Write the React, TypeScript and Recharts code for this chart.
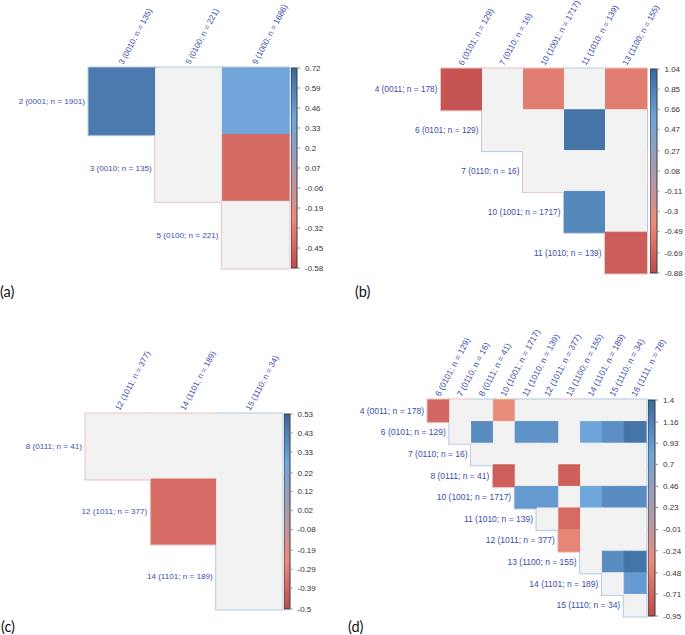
import React from 'react';
import { ScatterChart, Scatter, XAxis, YAxis, BarChart, Bar } from 'recharts';

// ---- panel (a)
const aCols = ['3 (0010; n = 135)', '5 (0100; n = 221)', '9 (1000; n = 1686)'];
const aRows = ['2 (0001; n = 1901)', '3 (0010; n = 135)', '5 (0100; n = 221)'];
// S = significant (coloured), N = not significant (grey), - = no cell
const aMask = ['SNS', '-NS', '--N'];
const aValues = [
  [0.62, 0.05, 0.38],
  [null, -0.05, -0.42],
  [null, null, -0.05],
];
const aTicks = [0.72, 0.59, 0.46, 0.33, 0.2, 0.07, -0.06, -0.19, -0.32, -0.45, -0.58];

// ---- panel (b)
const bCols = ['6 (0101; n = 129)', '7 (0110; n = 16)', '10 (1001; n = 1717)', '11 (1010; n = 139)', '13 (1100; n = 155)'];
const bRows = ['4 (0011; n = 178)', '6 (0101; n = 129)', '7 (0110; n = 16)', '10 (1001; n = 1717)', '11 (1010; n = 139)'];
const bMask = ['SNSNS', '-NNSN', '--NNN', '---SN', '----S'];
const bValues = [
  [-0.81, -0.05, -0.5, 0.05, -0.5],
  [null, 0.05, 0.05, 0.95, 0.05],
  [null, null, -0.05, 0.05, -0.05],
  [null, null, null, 0.8, 0.05],
  [null, null, null, null, -0.74],
];
const bTicks = [1.04, 0.85, 0.66, 0.47, 0.27, 0.08, -0.11, -0.3, -0.49, -0.69, -0.88];

// ---- panel (c)
const cCols = ['12 (1011; n = 377)', '14 (1101; n = 189)', '15 (1110; n = 34)'];
const cRows = ['8 (0111; n = 41)', '12 (1011; n = 377)', '14 (1101; n = 189)'];
const cMask = ['NNN', '-SN', '--N'];
const cValues = [
  [-0.05, -0.05, 0.05],
  [null, -0.37, 0.05],
  [null, null, 0.05],
];
const cTicks = [0.53, 0.43, 0.33, 0.22, 0.12, 0.02, -0.08, -0.19, -0.29, -0.39, -0.5];

// ---- panel (d)
const dCols = ['6 (0101; n = 129)', '7 (0110; n = 16)', '8 (0111; n = 41)', '10 (1001; n = 1717)', '11 (1010; n = 139)',
  '12 (1011; n = 377)', '13 (1100; n = 155)', '14 (1101; n = 189)', '15 (1110; n = 34)', '16 (1111; n = 78)'];
const dRows = ['4 (0011; n = 178)', '6 (0101; n = 129)', '7 (0110; n = 16)', '8 (0111; n = 41)', '10 (1001; n = 1717)',
  '11 (1010; n = 139)', '12 (1011; n = 377)', '13 (1100; n = 155)', '14 (1101; n = 189)', '15 (1110; n = 34)'];
const dMask = [
  'SNNSNNNNNN',
  '-NSNSSNSSS',
  '--NNNNNNNN',
  '---SNNSNNN',
  '----SSNSSS',
  '-----NSNNN',
  '------SNNN',
  '-------NSS',
  '--------NS',
  '---------N',
];
const dValues = [
  [-0.68, -0.05, 0.05, -0.36, 0.05, 0.05, -0.05, 0.05, 0.05, 0.05],
  [null, 0.05, 1.05, 0.05, 1.0, 1.0, 0.05, 0.82, 1.02, 1.28],
  [null, null, 0.05, 0.05, 0.05, 0.05, 0.05, 0.05, 0.05, 0.05],
  [null, null, null, -0.77, 0.05, 0.05, -0.77, 0.05, 0.05, 0.05],
  [null, null, null, null, 0.93, 0.93, 0.05, 0.8, 1.05, 1.05],
  [null, null, null, null, null, 0.05, -0.66, 0.05, 0.05, 0.05],
  [null, null, null, null, null, null, -0.42, 0.05, 0.05, 0.05],
  [null, null, null, null, null, null, null, 0.05, 1.05, 1.28],
  [null, null, null, null, null, null, null, null, 0.05, 0.92],
  [null, null, null, null, null, null, null, null, null, 0.05],
];
const dTicks = [1.4, 1.16, 0.93, 0.7, 0.46, 0.23, -0.01, -0.24, -0.48, -0.71, -0.95];

const STOPS: [number, string][] = [
  [0, '#c04a4c'],
  [0.25, '#ea8c7b'],
  [0.5, '#a99aae'],
  [0.75, '#6ea6dc'],
  [1, '#3b6899'],
];
const GREY = '#f2f2f2';
const POS_EDGE = '#b4cbe6';
const NEG_EDGE = '#ebc3c3';
const LABEL_BLUE = '#3b4cae';
const FONT = '"Liberation Sans", Arial, sans-serif';

function mix(a: string, b: string, f: number) {
  const pa = [1, 3, 5].map((i) => parseInt(a.slice(i, i + 2), 16));
  const pb = [1, 3, 5].map((i) => parseInt(b.slice(i, i + 2), 16));
  return `rgb(${pa.map((v, k) => Math.round(v + (pb[k] - v) * f)).join(',')})`;
}

function scaleColor(v: number, min: number, max: number) {
  const t = Math.max(0, Math.min(1, (v - min) / (max - min)));
  for (let i = 1; i < STOPS.length; i++) {
    if (t <= STOPS[i][0]) {
      const f = (t - STOPS[i - 1][0]) / (STOPS[i][0] - STOPS[i - 1][0]);
      return mix(STOPS[i - 1][1], STOPS[i][1], f);
    }
  }
  return STOPS[STOPS.length - 1][1];
}

function buildCells(values: (number | null)[][], mask: string[]) {
  const out: { x: number; y: number; v: number; sig: boolean }[] = [];
  values.forEach((row, r) =>
    row.forEach((v, c) => {
      if (v === null || mask[r][c] === '-') return;
      out.push({ x: c + 0.5, y: r + 0.5, v, sig: mask[r][c] === 'S' });
    })
  );
  return out;
}

function ColorBar({ id, min, max, ticks, bar }: any) {
  const [bx, by, bw, bh] = bar;
  const data = [{ name: 'scale', range: [min, max] }];
  return (
    <div style={{ position: 'absolute', left: bx, top: by - 6 }}>
      <BarChart width={bw + 40} height={bh + 12} data={data} margin={{ top: 6, right: 0, bottom: 6, left: 0 }} barCategoryGap={0}>
        <defs>
          <linearGradient id={id} x1="0" y1="1" x2="0" y2="0">
            {STOPS.map(([o, c]) => (
              <stop key={o} offset={o} stopColor={c} />
            ))}
          </linearGradient>
        </defs>
        <XAxis dataKey="name" type="category" hide />
        <YAxis
          orientation="right"
          type="number"
          domain={[min, max]}
          ticks={ticks}
          interval={0}
          width={40}
          axisLine={false}
          tickLine={{ stroke: '#888' }}
          tickSize={3}
          tickMargin={5}
          tick={{ fontSize: 8, fill: '#333', fontFamily: FONT }}
        />
        <Bar dataKey="range" fill={`url(#${id})`} stroke="#3a3a3a" strokeWidth={1} isAnimationActive={false} />
      </BarChart>
    </div>
  );
}

function Heatmap({ id, cols, rows, values, mask, ticks, box, plot, bar, fontSize, angle }: any) {
  const [bx, by, bw, bh] = box;
  const [L, T, W, H] = plot;
  const wy = 70;
  const hx = 40;
  const cw = W / cols.length;
  const ch = H / rows.length;
  const min = ticks[ticks.length - 1];
  const max = ticks[0];
  const cells = buildCells(values, mask);
  const margin = { left: L - bx - wy, top: T - by - hx, right: bx + bw - (L + W), bottom: by + bh - (T + H) };

  // first pass: faint outline in the sign colour; second pass covers the inner half,
  // so only the outer rim of the triangle stays visible
  const edgeShape = (p: any) => (
    <rect
      x={p.cx - cw / 2}
      y={p.cy - ch / 2}
      width={cw}
      height={ch}
      fill="none"
      stroke={p.payload.v >= 0 ? POS_EDGE : NEG_EDGE}
      strokeWidth={3}
    />
  );
  const cellShape = (p: any) => {
    const fill = p.payload.sig ? scaleColor(p.payload.v, min, max) : GREY;
    return (
      <rect x={p.cx - cw / 2} y={p.cy - ch / 2} width={cw} height={ch} fill={fill} stroke={fill} strokeWidth={1} />
    );
  };

  const colTick = (p: any) => {
    const i = Math.floor(p.payload.value);
    return (
      <text
        x={p.x + 1}
        y={p.y}
        transform={`rotate(${angle} ${p.x + 1} ${p.y})`}
        textAnchor="start"
        fontSize={fontSize}
        fontFamily={FONT}
        fill={LABEL_BLUE}
      >
        {cols[i]}
      </text>
    );
  };
  const rowTick = (p: any) => {
    const i = Math.floor(p.payload.value);
    return (
      <text x={p.x + i * cw} y={p.y} dy="0.35em" textAnchor="end" fontSize={fontSize} fontFamily={FONT} fill={LABEL_BLUE}>
        {rows[i]}
      </text>
    );
  };

  return (
    <>
      <div style={{ position: 'absolute', left: bx, top: by }}>
        <ScatterChart width={bw} height={bh} margin={margin}>
          <XAxis
            type="number"
            dataKey="x"
            domain={[0, cols.length]}
            ticks={cols.map((_: string, i: number) => i + 0.5)}
            interval={0}
            orientation="top"
            height={hx}
            tickSize={0}
            tickMargin={3}
            axisLine={false}
            tickLine={false}
            tick={colTick}
          />
          <YAxis
            type="number"
            dataKey="y"
            domain={[0, rows.length]}
            reversed
            ticks={rows.map((_: string, i: number) => i + 0.5)}
            interval={0}
            width={wy}
            tickSize={0}
            tickMargin={4}
            axisLine={false}
            tickLine={false}
            tick={rowTick}
          />
          <Scatter name={`${id}-edge`} data={cells} shape={edgeShape} isAnimationActive={false} />
          <Scatter name={`${id}-cell`} data={cells} shape={cellShape} isAnimationActive={false} />
        </ScatterChart>
      </div>
      <ColorBar id={`grad-${id}`} min={min} max={max} ticks={ticks} bar={bar} />
    </>
  );
}

const panelLabel = (text: string, left: number, top: number) => (
  <div
    style={{
      position: 'absolute',
      left,
      top,
      fontFamily: 'Lato, "Open Sans", sans-serif',
      fontSize: 14.5,
      lineHeight: '15px',
      color: '#111',
    }}
  >
    {text}
  </div>
);

export default function App() {
  return (
    <div style={{ position: 'absolute', left: 0, top: 0, width: 685, height: 635, overflow: 'hidden', background: '#fff' }}>
      <Heatmap id="a" cols={aCols} rows={aRows} values={aValues} mask={aMask} ticks={aTicks} angle={-62}
        box={[0, 0, 340, 300]} plot={[89, 68, 200, 200]} bar={[291, 68, 6, 200]} fontSize={8.1} />
      <Heatmap id="b" cols={bCols} rows={bRows} values={bValues} mask={bMask} ticks={bTicks} angle={-61}
        box={[340, 0, 345, 300]} plot={[441.5, 69, 205, 204]} bar={[650, 69, 6.5, 204]} fontSize={8.3} />
      <Heatmap id="c" cols={cCols} rows={cRows} values={cValues} mask={cMask} ticks={cTicks} angle={-62}
        box={[0, 300, 340, 335]} plot={[86, 414, 196, 195]} bar={[284, 414, 5.5, 195]} fontSize={8.1} />
      <Heatmap id="d" cols={dCols} rows={dRows} values={dValues} mask={dMask} ticks={dTicks} angle={-62}
        box={[340, 300, 345, 335]} plot={[428, 400, 218, 216]} bar={[648, 400, 7, 216]} fontSize={8.5} />
      {panelLabel('(a)', 0, 284)}
      {panelLabel('(b)', 355, 284)}
      {panelLabel('(c)', 1, 619)}
      {panelLabel('(d)', 348, 619)}
    </div>
  );
}
